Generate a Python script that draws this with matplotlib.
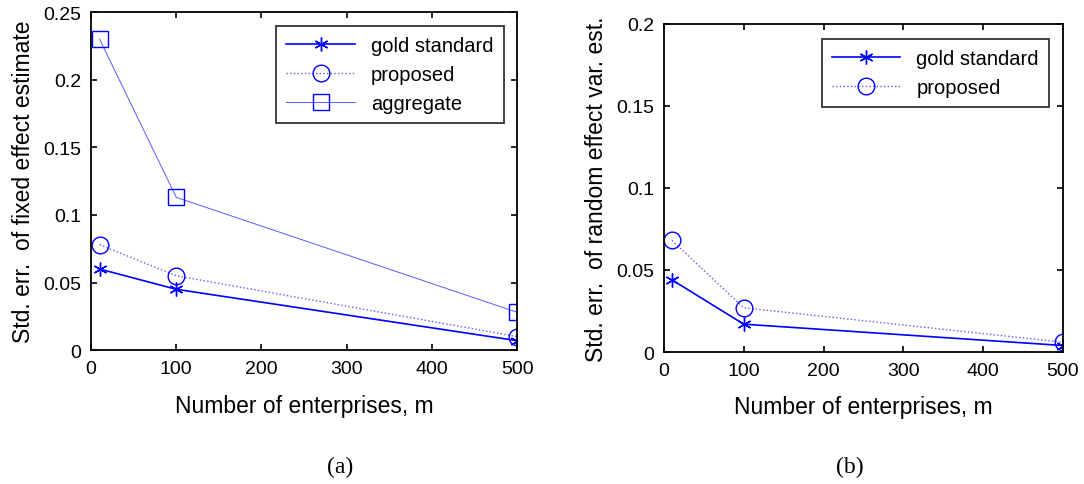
import numpy as np
import matplotlib.pyplot as plt

plt.rcParams['font.family'] = ['Liberation Sans', 'DejaVu Sans']

# Nombre d'entreprises
m = [10, 100, 500]

# (a) erreur standard de l'effet fixe
fixe_gold = [0.060, 0.045, 0.007]
fixe_proposed = [0.078, 0.055, 0.010]
fixe_aggregate = [0.230, 0.113, 0.028]

# (b) erreur standard de la variance de l'effet aléatoire
alea_gold = [0.044, 0.017, 0.004]
alea_proposed = [0.068, 0.027, 0.006]

bleu = '#0000ff'
bleu_clair = '#5a5aff'
asterisque = (6, 2, 0)

fig = plt.figure(figsize=(10.84, 4.85), dpi=100)
ax1 = fig.add_axes([0.084, 0.276, 0.393, 0.697])
ax2 = fig.add_axes([0.6125, 0.272, 0.368, 0.677])


def style_matlab(ax):
    ax.tick_params(direction='in', top=True, right=True, labelsize=14,
                   length=4, width=1.2, pad=7)
    for s in ax.spines.values():
        s.set_linewidth(1.3)


ax1.plot(m, fixe_gold, '-', color=bleu, lw=1.2, marker=asterisque, ms=10,
         mew=1.0, label='gold standard')
ax1.plot(m, fixe_proposed, ':', color=bleu_clair, lw=1.0, marker='o', ms=12,
         mfc='none', mec=bleu, mew=1.0, label='proposed')
ax1.plot(m, fixe_aggregate, '-', color=bleu_clair, lw=0.7, marker='s', ms=12,
         mfc='none', mec=bleu, mew=1.0, label='aggregate')
ax1.set_xlim(0, 500)
ax1.set_ylim(0, 0.25)
ax1.set_xticks([0, 100, 200, 300, 400, 500])
ax1.set_yticks([0, 0.05, 0.1, 0.15, 0.2, 0.25])
ax1.set_yticklabels(['0', '0.05', '0.1', '0.15', '0.2', '0.25'])
ax1.set_xlabel('Number of enterprises, m', fontsize=16.5, labelpad=12)
ax1.set_ylabel('Std. err.  of fixed effect estimate', fontsize=16.5, labelpad=6)
style_matlab(ax1)
leg1 = ax1.legend(loc='upper right', fontsize=14.5, frameon=True, fancybox=False,
                  borderpad=0.5, handlelength=3.4, labelspacing=0.5,
                  bbox_to_anchor=(0.992, 0.99))
leg1.get_frame().set_edgecolor('black')
leg1.get_frame().set_linewidth(1.3)

ax2.plot(m, alea_gold, '-', color=bleu, lw=1.2, marker=asterisque, ms=10,
         mew=1.0, label='gold standard')
ax2.plot(m, alea_proposed, ':', color=bleu_clair, lw=1.0, marker='o', ms=12,
         mfc='none', mec=bleu, mew=1.0, label='proposed')
ax2.set_xlim(0, 500)
ax2.set_ylim(0, 0.2)
ax2.set_xticks([0, 100, 200, 300, 400, 500])
ax2.set_yticks([0, 0.05, 0.1, 0.15, 0.2])
ax2.set_yticklabels(['0', '0.05', '0.1', '0.15', '0.2'])
ax2.set_xlabel('Number of enterprises, m', fontsize=16.5, labelpad=12)
ax2.set_ylabel('Std. err.  of random effect var. est.', fontsize=16.5, labelpad=6)
style_matlab(ax2)
leg2 = ax2.legend(loc='upper right', fontsize=14.5, frameon=True, fancybox=False,
                  borderpad=0.5, handlelength=3.4, labelspacing=0.5,
                  bbox_to_anchor=(0.99, 0.985))
leg2.get_frame().set_edgecolor('black')
leg2.get_frame().set_linewidth(1.3)

fig.text(0.314, 0.025, '(a)', fontsize=17, family='Liberation Serif', ha='center')
fig.text(0.784, 0.025, '(b)', fontsize=17, family='Liberation Serif', ha='center')

fig.savefig('out.png', dpi=100)
